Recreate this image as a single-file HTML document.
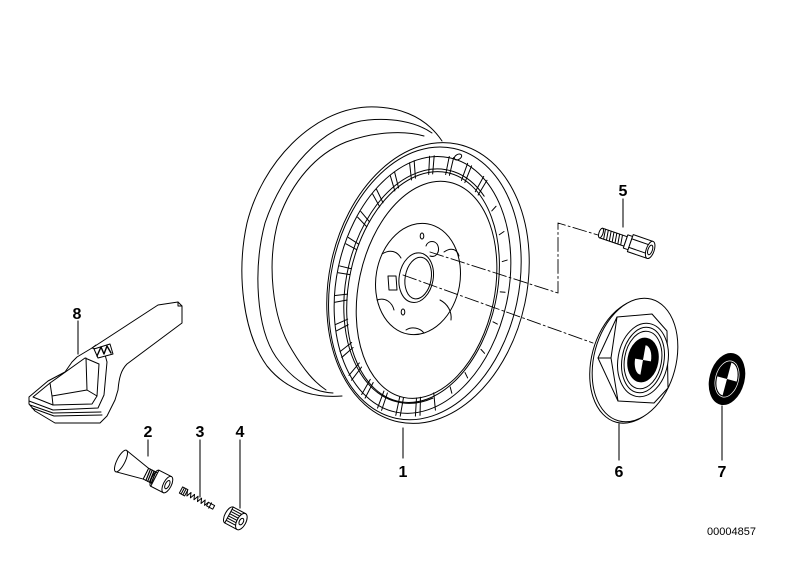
<!DOCTYPE html>
<html><head><meta charset="utf-8">
<style>
html,body{margin:0;padding:0;background:#fff;}
svg{display:block}
.lbl{font-family:"Liberation Sans",Arial,sans-serif;font-weight:bold;font-size:16px;fill:#000;text-anchor:middle;stroke:none}
.num{font-family:"Liberation Sans",Arial,sans-serif;font-size:11px;fill:#000;stroke:none}
.s line,.s path{vector-effect:non-scaling-stroke}
</style></head>
<body>
<svg width="800" height="565" viewBox="0 0 800 565" xmlns="http://www.w3.org/2000/svg">
<rect width="800" height="565" fill="#fff"/>
<g fill="none" stroke="#000" stroke-width="1" stroke-linejoin="round" stroke-linecap="round">

<!-- back rim -->
<path d="M442,141 C424,114 395,106 367,107 C312,110 262,163 247,223 C236,273 243,333 267,366 C288,392 316,398 342,396"/>
<path d="M432,133 C415,121 390,118 368,120 C322,124 282,172 265,223 C253,268 256,328 276,357 C294,382 314,392 333,393"/>
<path d="M424,136 C404,130 372,132 346,142 C316,154 292,182 279,218 C266,262 272,318 292,350 C304,370 314,382 326,390"/>

<!-- front rim -->
<g transform="translate(428,283) rotate(12)">
  <ellipse rx="99" ry="142" fill="#fff"/>
  <ellipse cx="-3" cy="1" rx="94" ry="138"/>
  <ellipse cx="-5" cy="3" rx="86" ry="130"/>
  <ellipse cx="-4" cy="5" rx="74" ry="117"/>
  <ellipse cx="0" cy="7" rx="68" ry="110"/>
  <g class="s" transform="translate(-4,4) scale(80,123)">
    <path d="M0.408,0.875 A0.965,0.965 0 1 1 0.511,-0.818"/>
    <line x1="0.925" x2="1.075" transform="rotate(64)"/><line x1="0.925" x2="1.075" transform="rotate(74)"/>
    <line x1="0.925" x2="1.075" transform="rotate(77)"/><line x1="0.925" x2="1.075" transform="rotate(87)"/>
    <line x1="0.925" x2="1.075" transform="rotate(90)"/><line x1="0.925" x2="1.075" transform="rotate(100)"/>
    <line x1="0.925" x2="1.075" transform="rotate(103)"/><line x1="0.925" x2="1.075" transform="rotate(113)"/>
    <line x1="0.925" x2="1.075" transform="rotate(116)"/><line x1="0.925" x2="1.075" transform="rotate(126)"/>
    <line x1="0.925" x2="1.075" transform="rotate(129)"/><line x1="0.925" x2="1.075" transform="rotate(139)"/>
    <line x1="0.925" x2="1.075" transform="rotate(142)"/><line x1="0.925" x2="1.075" transform="rotate(152)"/>
    <line x1="0.925" x2="1.075" transform="rotate(155)"/><line x1="0.925" x2="1.075" transform="rotate(165)"/>
    <line x1="0.925" x2="1.075" transform="rotate(168)"/><line x1="0.925" x2="1.075" transform="rotate(178)"/>
    <line x1="0.925" x2="1.075" transform="rotate(181)"/><line x1="0.925" x2="1.075" transform="rotate(191)"/>
    <line x1="0.925" x2="1.075" transform="rotate(194)"/><line x1="0.925" x2="1.075" transform="rotate(204)"/>
    <line x1="0.925" x2="1.075" transform="rotate(207)"/><line x1="0.925" x2="1.075" transform="rotate(217)"/>
    <line x1="0.925" x2="1.075" transform="rotate(220)"/><line x1="0.925" x2="1.075" transform="rotate(230)"/>
    <line x1="0.925" x2="1.075" transform="rotate(233)"/><line x1="0.925" x2="1.075" transform="rotate(243)"/>
    <line x1="0.925" x2="1.075" transform="rotate(246)"/><line x1="0.925" x2="1.075" transform="rotate(256)"/>
    <line x1="0.925" x2="1.075" transform="rotate(259)"/><line x1="0.925" x2="1.075" transform="rotate(269)"/>
    <line x1="0.925" x2="1.075" transform="rotate(272)"/><line x1="0.925" x2="1.075" transform="rotate(282)"/>
    <line x1="0.925" x2="1.075" transform="rotate(285)"/><line x1="0.925" x2="1.075" transform="rotate(295)"/>
    <line x1="0.925" x2="1.075" transform="rotate(298)"/>
    <line x1="0.96" x2="1.02" transform="rotate(312)"/><line x1="0.96" x2="1.02" transform="rotate(326)"/>
    <line x1="0.96" x2="1.02" transform="rotate(340)"/><line x1="0.96" x2="1.02" transform="rotate(355)"/>
    <line x1="0.96" x2="1.02" transform="rotate(10)"/><line x1="0.96" x2="1.02" transform="rotate(25)"/>
    <line x1="0.96" x2="1.02" transform="rotate(40)"/><line x1="0.96" x2="1.02" transform="rotate(52)"/>
  </g>
</g>
<ellipse cx="458" cy="157" rx="4" ry="2.5" transform="rotate(-30 458 157)"/>

<!-- hub -->
<g transform="translate(418,279) rotate(10)">
  <ellipse rx="42" ry="56" fill="#fff"/>
  <ellipse cx="-2" cy="-1" rx="17" ry="25" fill="#fff"/>
  <ellipse cx="0" cy="-1" rx="13" ry="21"/>
</g>
<ellipse cx="422" cy="236" rx="1.8" ry="3"/>
<ellipse cx="403" cy="312" rx="1.8" ry="3"/>
<path d="M426,246 C428,240 436,240 438,246 C440,252 436,258 430,256"/>
<path d="M388,276 L396,276 L397,290 L389,290 Z" fill="#fff"/>
<path d="M382,254 C390,249 397,251 401,258"/>
<path d="M377,300 C385,297 392,302 394,310"/>
<path d="M440,300 C448,304 452,312 451,320"/>
<path d="M444,252 C451,247 457,249 459,256"/>
<path d="M406,330 C412,326 420,328 424,333"/>

<!-- dash-dot centre lines -->
<g stroke-dasharray="14 3 2 3" stroke-width="0.9">
  <path d="M430,252 L558,293 L558,223 L598,235"/>
  <path d="M403,275 L593,343"/>
</g>

<!-- part 5 bolt -->
<g transform="translate(601,233) rotate(19)">
  <path d="M0,-5 L26,-5 L26,5 L0,5 Z" fill="#fff"/>
  <ellipse cx="0" rx="2" ry="5" fill="#fff"/>
  <path d="M3,-5 L4.5,5 M6,-5 L7.5,5 M9,-5 L10.5,5 M12,-5 L13.5,5 M15,-5 L16.5,5 M18,-5 L19.5,5 M21,-5 L22.5,5"/>
  <path d="M26,-7 L31,-7 L31,7 L26,7 Z" fill="#fff"/>
  <path d="M31,-9 L52,-9 L52,9 L31,9 Z" fill="#fff"/>
  <path d="M31,-4.5 L52,-4.5 M31,4.5 L52,4.5"/>
  <ellipse cx="52" rx="4" ry="9" fill="#fff"/>
  <ellipse cx="52" rx="2.2" ry="5"/>
</g>

<!-- part 6 cap -->
<g transform="translate(635,360) rotate(15)">
  <ellipse cx="-2" cy="2" rx="41" ry="63" fill="#fff"/>
  <ellipse rx="41" ry="63" fill="#fff"/>
</g>
<path d="M617,317 L652,314 L667,331 L668,388 L654,403 L618,401 L598,358 Z" fill="#fff"/>
<path d="M617,317 L611,358 L618,401 M598,358 L611,358"/>
<g transform="translate(643,360) rotate(10)">
  <ellipse rx="25" ry="37" fill="#fff"/>
  <ellipse rx="21" ry="33"/>
  <ellipse rx="18.5" ry="29"/>
  <ellipse rx="15" ry="22" fill="#000"/>
  <path d="M0,0 L0,-15 A8,15 0 0 1 8,0 Z" fill="#fff" stroke="none"/>
  <path d="M0,0 L0,15 A8,15 0 0 1 -8,0 Z" fill="#fff" stroke="none"/>
</g>

<!-- part 7 emblem -->
<g transform="translate(727,379) rotate(15)">
  <ellipse rx="17" ry="26" fill="#000"/>
  <ellipse rx="11.5" ry="18.5" stroke="#fff" stroke-width="0.7"/>
  <path d="M0,0 L0,-17 A10,17 0 0 1 10,0 Z" fill="#fff" stroke="none"/>
  <path d="M0,0 L0,17 A10,17 0 0 1 -10,0 Z" fill="#fff" stroke="none"/>
</g>

<!-- part 8 wrench -->
<path d="M158,305 L178,302 L182,306 L182,323 L127,364 C121,370 119,378 118,390 L115,400 L107,416 L100,423 L55,423 L35,411 L29,404 L29,397 L48,381 L65,372 L72,362 L77,357 L92,348 Z" fill="#fff"/>
<path d="M178,302 L178,306 L182,306"/>
<path d="M92,348 L104,351 L107,362 L104,395 L98,408 L53,410 L29,401"/>
<path d="M33,397 L50,383 L85,358 L99,364 L97,396 L92,404 L53,405 Z"/>
<path d="M50,383 L52,396 L87,390 L86,358 M87,390 L97,396 M52,396 L53,405"/>
<path d="M30,405 L53,413 L101,412 M32,408 L54,416 L102,415"/>
<path d="M92,348 L96,345"/>
<path d="M94,349 L110,344 L113,354 L98,358 Z" fill="#fff"/>
<path d="M97,356 L101,347 L104,354 L107,346 L111,353" stroke-width="1.4"/>

<!-- part 2 valve -->
<g transform="translate(121,461) rotate(27)">
  <path d="M0,-12 L28,-6 L28,6 L0,12 Z" fill="#fff"/>
  <ellipse cx="0" rx="4" ry="12" fill="#fff"/>
  <path d="M28,-6 L38,-6 L38,6 L28,6 Z" fill="#fff"/>
  <path d="M30,-6 L31,6 M32,-6 L33,6 M34,-6 L35,6 M36,-6 L37,6" stroke-width="1.2"/>
  <path d="M38,-9 L52,-9 L52,9 L38,9 Z" fill="#fff"/>
  <path d="M38,-9 A3,9 0 0 0 38,9"/>
  <ellipse cx="52" rx="4" ry="9" fill="#fff"/>
  <ellipse cx="52" rx="2" ry="4.5"/>
</g>

<!-- part 3 valve core -->
<g transform="translate(181,490) rotate(28)">
  <path d="M0,-3.5 L6,-3.5 L6,3.5 L0,3.5 Z" fill="#fff"/>
  <path d="M2,-3.5 L2,3.5 M4,-3.5 L4,3.5"/>
  <path d="M6,-2.5 L8,2.5 L10,-2.5 L12,2.5 L14,-2.5 L16,2.5 L18,-2.5 L20,2.5 L22,-2.5 L24,2.5 L26,-2.5 L28,2.5 L30,-2"/>
  <path d="M30,-2 L37,-2 L37,2 L30,2 Z" fill="#fff"/>
  <path d="M33,-3 L33,3"/>
</g>

<!-- part 4 cap -->
<g transform="translate(229,515) rotate(28)">
  <path d="M0,-9 L14,-9 L14,9 L0,9 Z" fill="#fff"/>
  <path d="M0,-9 A4,9 0 0 0 0,9"/>
  <path d="M0,-6.5 L14,-6.5 M0,-4 L14,-4 M0,-1.5 L14,-1.5 M0,1 L14,1 M0,3.5 L14,3.5 M0,6 L14,6"/>
  <ellipse cx="14" rx="4.5" ry="9" fill="#fff"/>
  <ellipse cx="14" rx="2" ry="3.5"/>
</g>

<!-- leader lines -->
<g stroke-width="1.2" stroke="#222">
  <path d="M403,428 L403,458"/>
  <path d="M148,440 L148,456"/>
  <path d="M200,440 L200,497"/>
  <path d="M240,440 L240,508"/>
  <path d="M623,199 L623,227"/>
  <path d="M619,424 L619,460"/>
  <path d="M722,406 L722,460"/>
  <path d="M78,321 L78,354"/>
</g>
</g>

<!-- labels -->
<text class="lbl" x="403" y="477">1</text>
<text class="lbl" x="148" y="437">2</text>
<text class="lbl" x="200" y="437">3</text>
<text class="lbl" x="240" y="437">4</text>
<text class="lbl" x="623" y="196">5</text>
<text class="lbl" x="619" y="477">6</text>
<text class="lbl" x="722" y="477">7</text>
<text class="lbl" x="77" y="319">8</text>
<text class="num" x="707" y="535">00004857</text>
</svg>
</body></html>
